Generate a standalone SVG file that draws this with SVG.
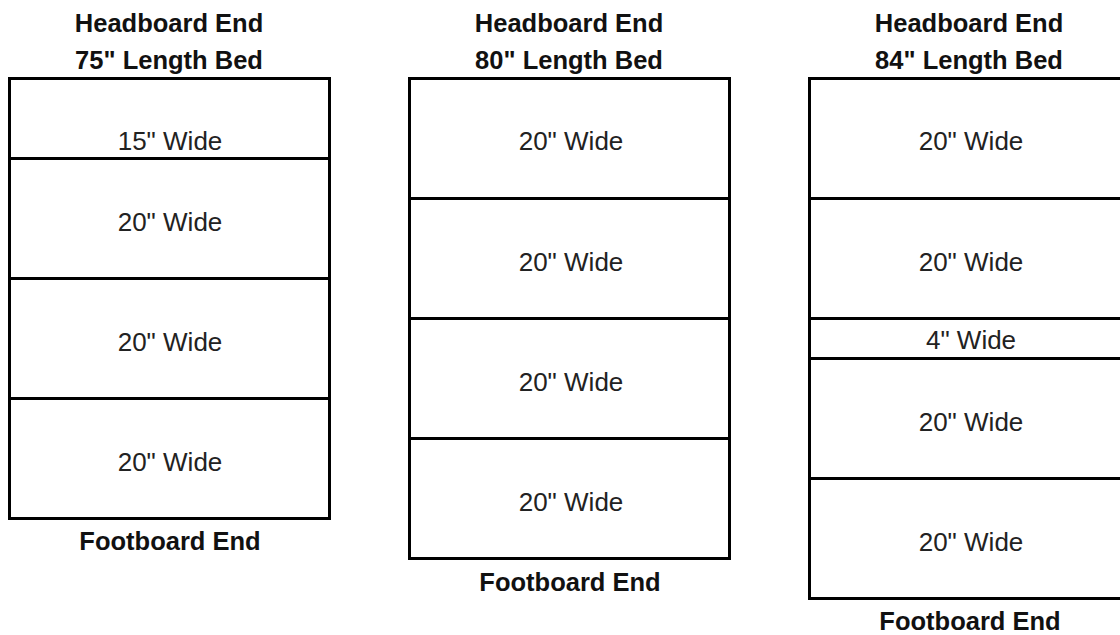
<svg xmlns="http://www.w3.org/2000/svg" width="1120" height="635" viewBox="0 0 1120 635">
<style>
.bg{fill:#fff}
.box{fill:none;stroke:#000;stroke-width:3}
.div{stroke:#000;stroke-width:3}
.h{font-family:"Liberation Sans",Arial,sans-serif;font-weight:bold;font-size:25.5px;fill:#111;text-anchor:middle}
.t{font-family:"Liberation Sans",Arial,sans-serif;font-size:26px;fill:#222;text-anchor:middle}
</style>
<rect class="bg" x="0" y="0" width="1120" height="635"/>
<g id="bed75">
<text class="h" x="169" y="32">Headboard End</text>
<text class="h" x="169" y="69">75" Length Bed</text>
<rect class="box" x="9.5" y="78.5" width="320" height="440"/>
<line class="div" x1="9.5" y1="158.5" x2="329.5" y2="158.5"/>
<line class="div" x1="9.5" y1="278.5" x2="329.5" y2="278.5"/>
<line class="div" x1="9.5" y1="398.5" x2="329.5" y2="398.5"/>
<text class="t" x="170" y="150">15" Wide</text>
<text class="t" x="170" y="231">20" Wide</text>
<text class="t" x="170" y="351">20" Wide</text>
<text class="t" x="170" y="471">20" Wide</text>
<text class="h" x="170" y="550">Footboard End</text>
</g>
<g id="bed80">
<text class="h" x="569" y="32">Headboard End</text>
<text class="h" x="569" y="69">80" Length Bed</text>
<rect class="box" x="409.5" y="78.5" width="320" height="480"/>
<line class="div" x1="409.5" y1="198.5" x2="729.5" y2="198.5"/>
<line class="div" x1="409.5" y1="318.5" x2="729.5" y2="318.5"/>
<line class="div" x1="409.5" y1="438.5" x2="729.5" y2="438.5"/>
<text class="t" x="571" y="150">20" Wide</text>
<text class="t" x="571" y="271">20" Wide</text>
<text class="t" x="571" y="391">20" Wide</text>
<text class="t" x="571" y="511">20" Wide</text>
<text class="h" x="570" y="591">Footboard End</text>
</g>
<g id="bed84">
<text class="h" x="969" y="32">Headboard End</text>
<text class="h" x="969" y="69">84" Length Bed</text>
<rect class="box" x="809.5" y="78.5" width="320" height="520"/>
<line class="div" x1="809.5" y1="198.5" x2="1129.5" y2="198.5"/>
<line class="div" x1="809.5" y1="318.5" x2="1129.5" y2="318.5"/>
<line class="div" x1="809.5" y1="358.5" x2="1129.5" y2="358.5"/>
<line class="div" x1="809.5" y1="478.5" x2="1129.5" y2="478.5"/>
<text class="t" x="971" y="150">20" Wide</text>
<text class="t" x="971" y="271">20" Wide</text>
<text class="t" x="971" y="349">4" Wide</text>
<text class="t" x="971" y="431">20" Wide</text>
<text class="t" x="971" y="551">20" Wide</text>
<text class="h" x="970" y="630">Footboard End</text>
</g>
<g id="connectors"/>
</svg>
